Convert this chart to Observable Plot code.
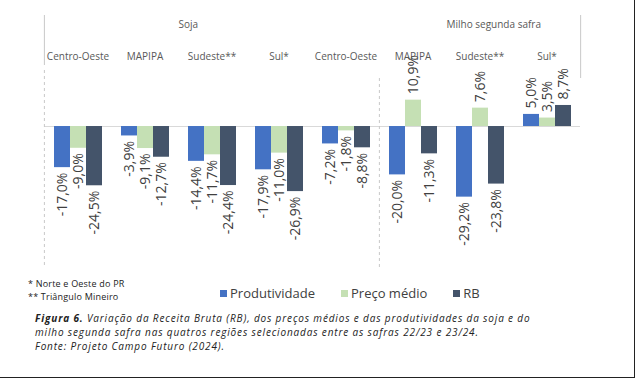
<!DOCTYPE html>
<html>
<head>
<meta charset="utf-8">
<script src="https://cdn.jsdelivr.net/npm/d3@7"></script>
<script src="https://cdn.jsdelivr.net/npm/@observablehq/plot@0.6"></script>
<style>
  body { margin: 0; background: #fff; }
  #wrap { position: relative; width: 634px; height: 377px; border-right: 1px solid #222; border-bottom: 1px solid #222; overflow: hidden; font-family: "Open Sans", sans-serif; background: #fff; }
  #chart { position: absolute; left: 0; top: 0; }
  #notes { position: absolute; left: 28px; top: 277px; font-size: 9px; line-height: 13px; color: #222; white-space: nowrap; letter-spacing: 0.2px; }
  #legend { position: absolute; left: 220px; top: 284px; font-size: 13px; color: #404040; display: flex; gap: 26px; white-space: nowrap; }
  #legend .item { display: flex; align-items: center; }
  #legend .sw { width: 7px; height: 7px; margin-right: 3px; display: inline-block; }
  #caption { position: absolute; left: 35px; top: 311px; font-size: 10px; line-height: 14px; font-style: italic; color: #222; white-space: nowrap; letter-spacing: 0.85px; }
  #caption b { font-weight: 700; }
</style>
</head>
<body>
<div id="wrap">
  <div id="chart"></div>
  <div id="notes"></div>
  <div id="legend"></div>
  <div id="caption"></div>
</div>
<script>
// ---- data ----
const crops = ["Soja", "Milho segunda safra"];
const regions = ["Centro-Oeste", "MAPIPA", "Sudeste**", "Sul*"];
const series = ["Produtividade", "Preço médio", "RB"];
const colors = ["#4472C4", "#C5E0B4", "#44546A"];

const sojaProdutividade = [-17.0, -3.9, -14.4, -17.9];
const sojaPreco = [-9.0, -9.1, -11.7, -11.0];
const sojaRB = [-24.5, -12.7, -24.4, -26.9];

const milhoProdutividade = [-7.2, -20.0, -29.2, 5.0];
const milhoPreco = [-1.8, 10.9, 7.6, 3.5];
const milhoRB = [-8.8, -11.3, -23.8, 8.7];

const footnotes = ["* Norte e Oeste do PR", "** Triângulo Mineiro"];
const captionBold = "Figura 6.";
const captionLines = [
  " Variação da Receita Bruta (RB), dos preços médios e das produtividades da soja e do",
  "milho segunda safra nas quatros regiões selecionadas entre as safras 22/23 e 23/24.",
  "Fonte: Projeto Campo Futuro (2024)."
];

// ---- build table ----
const values = {
  "Soja": [sojaProdutividade, sojaPreco, sojaRB],
  "Milho segunda safra": [milhoProdutividade, milhoPreco, milhoRB]
};
const groupRows = [];
const data = [];
for (const crop of crops) {
  regions.forEach((region, ri) => {
    const key = crop + "|" + region;
    groupRows.push({key, crop, region});
    series.forEach((s, si) => data.push({group: key, series: s, value: values[crop][si][ri]}));
  });
}
const groups = groupRows.map(d => d.key);
const fmt = d => d.value.toFixed(1).replace(".", ",") + "%";

// ---- layout ----
const W = 634, H = 272, ML = 43, MR = 53, MT = 15, MB = 4;
const facetW = (W - ML - MR) / groups.length;
const lineColor = "#c8c8c8";
const headerRows = crops.map((crop, i) => ({crop, key: groups[i * regions.length + 2]}));

const labelStyle = {fx: "group", x: "series", y: "value", text: fmt, rotate: -90, fontSize: 14, fill: "#404040"};

const plot = Plot.plot({
  width: W, height: H,
  marginLeft: ML, marginRight: MR, marginTop: MT, marginBottom: MB,
  style: {fontFamily: "Open Sans, sans-serif", background: "transparent", overflow: "visible"},
  fx: {domain: groups, padding: 0, axis: null},
  x: {domain: series, paddingInner: 0, paddingOuter: 0.5, axis: null},
  y: {domain: [-58.7, 45.9], axis: null},
  color: {domain: series, range: colors},
  marks: [
    Plot.ruleY([0], {stroke: "#d9d9d9", strokeWidth: 1}),
    Plot.barY(data, {fx: "group", x: "series", y: "value", fill: "series"}),
    Plot.text(data.filter(d => d.value < 0), {...labelStyle, textAnchor: "end", dy: 5}),
    Plot.text(data.filter(d => d.value >= 0), {...labelStyle, textAnchor: "start", dy: -6}),
    Plot.text(groupRows, {fx: "key", text: "region", frameAnchor: "top", dy: 37, fontSize: 10, fill: "#595959"}),
    Plot.text(headerRows, {fx: "key", text: "crop", frameAnchor: "top-left", dy: 5, fontSize: 10, fill: "#595959"}),
    // separators
    Plot.ruleX([{key: groups[0]}], {fx: "key", x: null, dx: -facetW / 2, stroke: lineColor, insetBottom: H - MB - MT - 50}),
    Plot.ruleX([{key: groups[0]}], {fx: "key", x: null, dx: -facetW / 2, stroke: lineColor, strokeDasharray: "3,3", insetTop: 55}),
    Plot.ruleX([{key: groups[5]}], {fx: "key", x: null, dx: -facetW / 2, stroke: lineColor, strokeDasharray: "3,3", insetTop: 63}),
    Plot.ruleX([{key: groups[7]}], {fx: "key", x: null, dx: facetW / 2, stroke: lineColor, insetBottom: H - MB - MT - 63})
  ]
});
document.getElementById("chart").appendChild(plot);

// ---- footnotes, legend, caption ----
document.getElementById("notes").innerHTML = footnotes.join("<br>");
const colorScale = plot.scale("color");
const legend = document.getElementById("legend");
colorScale.domain.forEach((s, i) => {
  const item = document.createElement("div");
  item.className = "item";
  const sw = document.createElement("span");
  sw.className = "sw";
  sw.style.background = colorScale.range[i];
  item.appendChild(sw);
  item.appendChild(document.createTextNode(s));
  legend.appendChild(item);
});
const cap = document.getElementById("caption");
const b = document.createElement("b");
b.textContent = captionBold;
cap.appendChild(b);
captionLines.forEach((line, i) => {
  if (i > 0) cap.appendChild(document.createElement("br"));
  cap.appendChild(document.createTextNode(line));
});
</script>
</body>
</html>
